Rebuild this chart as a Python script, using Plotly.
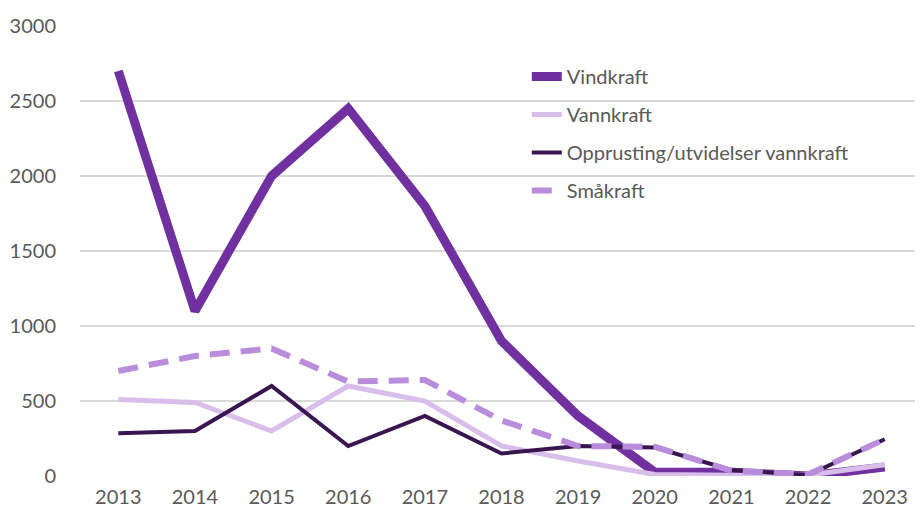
import plotly.graph_objects as go

years = ["2013", "2014", "2015", "2016", "2017", "2018", "2019", "2020", "2021", "2022", "2023"]
vindkraft = [2700, 1100, 2000, 2450, 1800, 900, 400, 25, 25, 0, 60]
vannkraft = [510, 490, 300, 600, 500, 200, 100, 10, 5, 5, 75]
opprusting = [285, 300, 600, 200, 400, 150, 200, 190, 40, 5, 245]
smaakraft = [700, 800, 850, 630, 640, 370, 200, 195, 35, 10, 245]
y_ticks = [0, 500, 1000, 1500, 2000, 2500, 3000]

font_family = "Lato, Open Sans, sans-serif"
grey = "#595959"

fig = go.Figure()
fig.add_trace(go.Scatter(x=years, y=vindkraft, name="Vindkraft", mode="lines",
                         line=dict(color="#7030A0", width=9), legendgroup="a"))
fig.add_trace(go.Scatter(x=years, y=vannkraft, name="Vannkraft", mode="lines",
                         line=dict(color="#D9BEEC", width=5), legendgroup="b"))
fig.add_trace(go.Scatter(x=years, y=opprusting, name="Opprusting/utvidelser vannkraft", mode="lines",
                         line=dict(color="#3A1650", width=4), legendgroup="c"))
fig.add_trace(go.Scatter(x=years, y=smaakraft, name="Småkraft", mode="lines",
                         line=dict(color="#B98DDC", width=6, dash="20px,11px"), legendgroup="d"))

fig.update_layout(
    width=915, height=510,
    margin=dict(l=72, r=0, t=18, b=42),
    plot_bgcolor="white", paper_bgcolor="white",
    font=dict(family=font_family, size=20, color=grey),
    showlegend=True,
    legend=dict(x=0.53, y=0.931, xanchor="left", yanchor="top",
                bgcolor="rgba(0,0,0,0)", font=dict(size=20, color=grey),
                traceorder="grouped", tracegroupgap=9, itemwidth=30),
    xaxis=dict(type="category", range=[-0.5, 10.5], showgrid=False, zeroline=False,
               showline=False, ticks="", tickfont=dict(size=20, color=grey),
               ticklabelstandoff=7),
    yaxis=dict(range=[0, 3000], tickvals=y_ticks, showgrid=True, gridcolor="#D9D9D9",
               gridwidth=1.5, zeroline=False, showline=False, ticks="",
               tickfont=dict(size=20, color=grey), ticklabelstandoff=23),
)

fig.write_html("out.html")
